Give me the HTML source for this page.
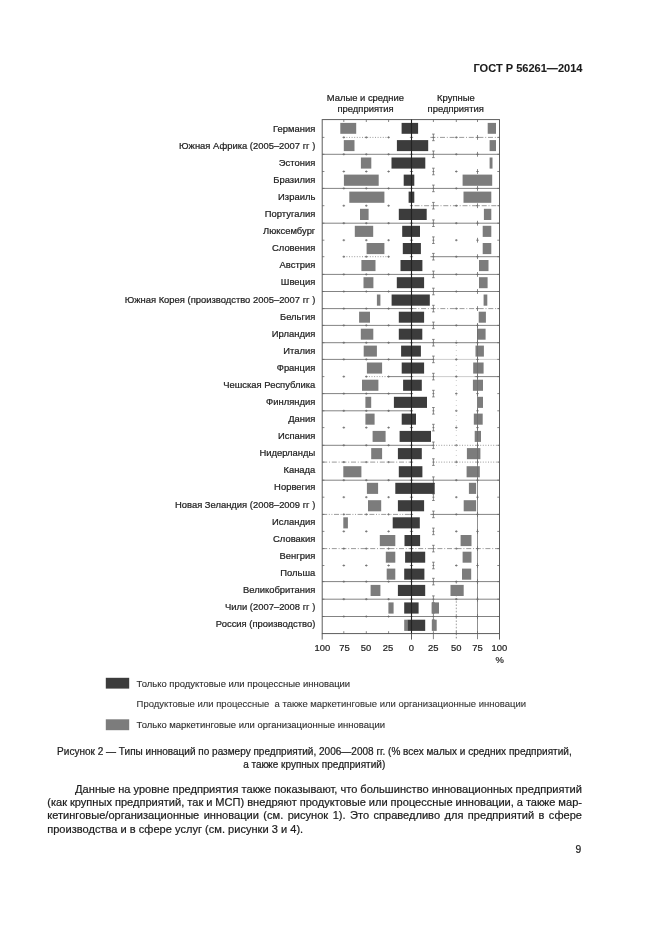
<!DOCTYPE html>
<html lang="ru"><head><meta charset="utf-8"><title>ГОСТ Р 56261—2014</title>
<style>
html,body{margin:0;padding:0;background:#fff;}
body{width:661px;height:935px;position:relative;overflow:hidden;font-family:"Liberation Sans",sans-serif;color:#1c1c1c;}
.t{position:absolute;white-space:nowrap;-webkit-text-stroke:0.22px #1c1c1c;transform:scaleY(1.045);}
#hdr{transform:none;-webkit-text-stroke:0.08px #1c1c1c;right:78.5px;top:60.9px;font-size:11.05px;font-weight:bold;line-height:14px;}
.cap{transform-origin:0 9.98px;left:0;width:628.8px;text-align:center;font-size:10.03px;line-height:13px;}
.p{transform-origin:0 10.3px;left:47.2px;font-size:11.08px;line-height:13px;}
#pn{transform-origin:0 10.07px;left:575.6px;top:842.8px;font-size:10.3px;line-height:13px;}
</style></head><body>
<svg width="661" height="935" viewBox="0 0 661 935" style="position:absolute;left:0;top:0" font-family="Liberation Sans, sans-serif" stroke="#222" stroke-width="0" paint-order="stroke"><style>text{stroke:#222;stroke-width:0.22px}</style>
<line x1="343.8" y1="137.4" x2="388.6" y2="137.4" stroke="#707070" stroke-width="0.7" stroke-dasharray="1 1.6"/>
<line x1="430.4" y1="137.4" x2="499.5" y2="137.4" stroke="#707070" stroke-width="0.7" stroke-dasharray="5 1.8 1 1.8"/>
<path d="M342.5 137.4h2.6M343.8 136.3v2.2M365.0 137.4h2.6M366.3 136.3v2.2M387.3 137.4h2.6M388.6 136.3v2.2M455.0 137.4h2.6M456.3 136.3v2.2M322.2 137.4h2.2M499.5 137.4h-2.2M409.9 137.4h3.2M433.4 134.1v6.6M432.1 134.1h2.6M432.1 140.7h2.6M432.4 137.4h2M477.5 135.0v4.8M476.2 137.4h2.6" stroke="#6a6a6a" stroke-width="0.8" fill="none"/>
<line x1="322.2" y1="154.3" x2="499.5" y2="154.3" stroke="#5a5a5a" stroke-width="0.75"/>
<path d="M342.5 154.3h2.6M343.8 153.2v2.2M365.0 154.3h2.6M366.3 153.2v2.2M387.3 154.3h2.6M388.6 153.2v2.2M455.0 154.3h2.6M456.3 153.2v2.2M322.2 154.3h2.2M499.5 154.3h-2.2M409.9 154.3h3.2M433.4 151.0v6.6M432.1 151.0h2.6M432.1 157.6h2.6M432.4 154.3h2M477.5 151.9v4.8M476.2 154.3h2.6" stroke="#6a6a6a" stroke-width="0.8" fill="none"/>
<path d="M342.5 171.5h2.6M343.8 170.4v2.2M365.0 171.5h2.6M366.3 170.4v2.2M387.3 171.5h2.6M388.6 170.4v2.2M455.0 171.5h2.6M456.3 170.4v2.2M322.2 171.5h2.2M499.5 171.5h-2.2M409.9 171.5h3.2M433.4 168.2v6.6M432.1 168.2h2.6M432.1 174.8h2.6M432.4 171.5h2M477.5 169.1v4.8M476.2 171.5h2.6" stroke="#6a6a6a" stroke-width="0.8" fill="none"/>
<line x1="322.2" y1="188.4" x2="499.5" y2="188.4" stroke="#5a5a5a" stroke-width="0.75"/>
<path d="M342.5 188.4h2.6M343.8 187.3v2.2M365.0 188.4h2.6M366.3 187.3v2.2M387.3 188.4h2.6M388.6 187.3v2.2M455.0 188.4h2.6M456.3 187.3v2.2M322.2 188.4h2.2M499.5 188.4h-2.2M409.9 188.4h3.2M433.4 185.1v6.6M432.1 185.1h2.6M432.1 191.7h2.6M432.4 188.4h2M477.5 186.0v4.8M476.2 188.4h2.6" stroke="#6a6a6a" stroke-width="0.8" fill="none"/>
<line x1="414.5" y1="205.7" x2="499.5" y2="205.7" stroke="#707070" stroke-width="0.7" stroke-dasharray="5 1.8 1 1.8"/>
<path d="M342.5 205.7h2.6M343.8 204.6v2.2M365.0 205.7h2.6M366.3 204.6v2.2M387.3 205.7h2.6M388.6 204.6v2.2M455.0 205.7h2.6M456.3 204.6v2.2M322.2 205.7h2.2M499.5 205.7h-2.2M409.9 205.7h3.2M433.4 202.4v6.6M432.1 202.4h2.6M432.1 209.0h2.6M432.4 205.7h2M477.5 203.3v4.8M476.2 205.7h2.6" stroke="#6a6a6a" stroke-width="0.8" fill="none"/>
<line x1="322.2" y1="223.2" x2="499.5" y2="223.2" stroke="#5a5a5a" stroke-width="0.75"/>
<path d="M342.5 223.2h2.6M343.8 222.1v2.2M365.0 223.2h2.6M366.3 222.1v2.2M387.3 223.2h2.6M388.6 222.1v2.2M455.0 223.2h2.6M456.3 222.1v2.2M322.2 223.2h2.2M499.5 223.2h-2.2M409.9 223.2h3.2M433.4 219.9v6.6M432.1 219.9h2.6M432.1 226.5h2.6M432.4 223.2h2M477.5 220.8v4.8M476.2 223.2h2.6" stroke="#6a6a6a" stroke-width="0.8" fill="none"/>
<path d="M342.5 240.2h2.6M343.8 239.1v2.2M365.0 240.2h2.6M366.3 239.1v2.2M387.3 240.2h2.6M388.6 239.1v2.2M455.0 240.2h2.6M456.3 239.1v2.2M322.2 240.2h2.2M499.5 240.2h-2.2M409.9 240.2h3.2M433.4 236.9v6.6M432.1 236.9h2.6M432.1 243.5h2.6M432.4 240.2h2M477.5 237.8v4.8M476.2 240.2h2.6" stroke="#6a6a6a" stroke-width="0.8" fill="none"/>
<line x1="343.8" y1="256.7" x2="390.6" y2="256.7" stroke="#707070" stroke-width="0.7" stroke-dasharray="1 1.6"/>
<line x1="430.4" y1="256.7" x2="499.5" y2="256.7" stroke="#5a5a5a" stroke-width="0.75"/>
<path d="M342.5 256.7h2.6M343.8 255.6v2.2M365.0 256.7h2.6M366.3 255.6v2.2M387.3 256.7h2.6M388.6 255.6v2.2M455.0 256.7h2.6M456.3 255.6v2.2M322.2 256.7h2.2M499.5 256.7h-2.2M409.9 256.7h3.2M433.4 253.4v6.6M432.1 253.4h2.6M432.1 260.0h2.6M432.4 256.7h2M477.5 254.3v4.8M476.2 256.7h2.6" stroke="#6a6a6a" stroke-width="0.8" fill="none"/>
<line x1="322.2" y1="274.4" x2="499.5" y2="274.4" stroke="#5a5a5a" stroke-width="0.75"/>
<path d="M342.5 274.4h2.6M343.8 273.3v2.2M365.0 274.4h2.6M366.3 273.3v2.2M387.3 274.4h2.6M388.6 273.3v2.2M455.0 274.4h2.6M456.3 273.3v2.2M322.2 274.4h2.2M499.5 274.4h-2.2M409.9 274.4h3.2M433.4 271.1v6.6M432.1 271.1h2.6M432.1 277.7h2.6M432.4 274.4h2M477.5 272.0v4.8M476.2 274.4h2.6" stroke="#6a6a6a" stroke-width="0.8" fill="none"/>
<line x1="322.2" y1="291.5" x2="499.5" y2="291.5" stroke="#5a5a5a" stroke-width="0.75"/>
<path d="M342.5 291.5h2.6M343.8 290.4v2.2M365.0 291.5h2.6M366.3 290.4v2.2M387.3 291.5h2.6M388.6 290.4v2.2M455.0 291.5h2.6M456.3 290.4v2.2M322.2 291.5h2.2M499.5 291.5h-2.2M409.9 291.5h3.2M433.4 288.2v6.6M432.1 288.2h2.6M432.1 294.8h2.6M432.4 291.5h2M477.5 289.1v4.8M476.2 291.5h2.6" stroke="#6a6a6a" stroke-width="0.8" fill="none"/>
<line x1="322.2" y1="308.6" x2="411.5" y2="308.6" stroke="#5a5a5a" stroke-width="0.75"/>
<line x1="411.5" y1="308.6" x2="499.5" y2="308.6" stroke="#707070" stroke-width="0.7" stroke-dasharray="5 1.8 1 1.8"/>
<path d="M342.5 308.6h2.6M343.8 307.5v2.2M365.0 308.6h2.6M366.3 307.5v2.2M387.3 308.6h2.6M388.6 307.5v2.2M455.0 308.6h2.6M456.3 307.5v2.2M322.2 308.6h2.2M499.5 308.6h-2.2M409.9 308.6h3.2M433.4 305.3v6.6M432.1 305.3h2.6M432.1 311.9h2.6M432.4 308.6h2M477.5 306.2v4.8M476.2 308.6h2.6" stroke="#6a6a6a" stroke-width="0.8" fill="none"/>
<line x1="322.2" y1="325.4" x2="499.5" y2="325.4" stroke="#5a5a5a" stroke-width="0.75"/>
<path d="M342.5 325.4h2.6M343.8 324.3v2.2M365.0 325.4h2.6M366.3 324.3v2.2M387.3 325.4h2.6M388.6 324.3v2.2M455.0 325.4h2.6M456.3 324.3v2.2M322.2 325.4h2.2M499.5 325.4h-2.2M409.9 325.4h3.2M433.4 322.1v6.6M432.1 322.1h2.6M432.1 328.7h2.6M432.4 325.4h2M477.5 323.0v4.8M476.2 325.4h2.6" stroke="#6a6a6a" stroke-width="0.8" fill="none"/>
<line x1="322.2" y1="342.7" x2="499.5" y2="342.7" stroke="#5a5a5a" stroke-width="0.75"/>
<path d="M342.5 342.7h2.6M343.8 341.6v2.2M365.0 342.7h2.6M366.3 341.6v2.2M387.3 342.7h2.6M388.6 341.6v2.2M455.0 342.7h2.6M456.3 341.6v2.2M322.2 342.7h2.2M499.5 342.7h-2.2M409.9 342.7h3.2M433.4 339.4v6.6M432.1 339.4h2.6M432.1 346.0h2.6M432.4 342.7h2M477.5 340.3v4.8M476.2 342.7h2.6" stroke="#6a6a6a" stroke-width="0.8" fill="none"/>
<line x1="322.2" y1="359.4" x2="433.4" y2="359.4" stroke="#5a5a5a" stroke-width="0.75"/>
<line x1="433.4" y1="359.4" x2="499.5" y2="359.4" stroke="#aaa" stroke-width="0.6"/>
<path d="M342.5 359.4h2.6M343.8 358.3v2.2M365.0 359.4h2.6M366.3 358.3v2.2M387.3 359.4h2.6M388.6 358.3v2.2M455.0 359.4h2.6M456.3 358.3v2.2M322.2 359.4h2.2M499.5 359.4h-2.2M409.9 359.4h3.2M433.4 356.1v6.6M432.1 356.1h2.6M432.1 362.7h2.6M432.4 359.4h2M477.5 357.0v4.8M476.2 359.4h2.6" stroke="#6a6a6a" stroke-width="0.8" fill="none"/>
<line x1="366.3" y1="376.6" x2="388.6" y2="376.6" stroke="#707070" stroke-width="0.7" stroke-dasharray="1 1.6"/>
<line x1="388.6" y1="376.6" x2="411.5" y2="376.6" stroke="#5a5a5a" stroke-width="0.75"/>
<line x1="411.5" y1="376.6" x2="474.5" y2="376.6" stroke="#aaa" stroke-width="0.6"/>
<line x1="474.5" y1="376.6" x2="499.5" y2="376.6" stroke="#5a5a5a" stroke-width="0.75"/>
<path d="M342.5 376.6h2.6M343.8 375.5v2.2M365.0 376.6h2.6M366.3 375.5v2.2M387.3 376.6h2.6M388.6 375.5v2.2M455.0 376.6h2.6M456.3 375.5v2.2M322.2 376.6h2.2M499.5 376.6h-2.2M409.9 376.6h3.2M433.4 373.3v6.6M432.1 373.3h2.6M432.1 379.9h2.6M432.4 376.6h2M477.5 374.2v4.8M476.2 376.6h2.6" stroke="#6a6a6a" stroke-width="0.8" fill="none"/>
<line x1="322.2" y1="393.6" x2="411.5" y2="393.6" stroke="#5a5a5a" stroke-width="0.75"/>
<path d="M342.5 393.6h2.6M343.8 392.5v2.2M365.0 393.6h2.6M366.3 392.5v2.2M387.3 393.6h2.6M388.6 392.5v2.2M455.0 393.6h2.6M456.3 392.5v2.2M322.2 393.6h2.2M499.5 393.6h-2.2M409.9 393.6h3.2M433.4 390.3v6.6M432.1 390.3h2.6M432.1 396.9h2.6M432.4 393.6h2M477.5 391.2v4.8M476.2 393.6h2.6" stroke="#6a6a6a" stroke-width="0.8" fill="none"/>
<line x1="322.2" y1="410.8" x2="411.5" y2="410.8" stroke="#5a5a5a" stroke-width="0.75"/>
<path d="M342.5 410.8h2.6M343.8 409.7v2.2M365.0 410.8h2.6M366.3 409.7v2.2M387.3 410.8h2.6M388.6 409.7v2.2M455.0 410.8h2.6M456.3 409.7v2.2M322.2 410.8h2.2M499.5 410.8h-2.2M409.9 410.8h3.2M433.4 407.5v6.6M432.1 407.5h2.6M432.1 414.1h2.6M432.4 410.8h2M477.5 408.4v4.8M476.2 410.8h2.6" stroke="#6a6a6a" stroke-width="0.8" fill="none"/>
<path d="M342.5 427.6h2.6M343.8 426.5v2.2M365.0 427.6h2.6M366.3 426.5v2.2M387.3 427.6h2.6M388.6 426.5v2.2M455.0 427.6h2.6M456.3 426.5v2.2M322.2 427.6h2.2M499.5 427.6h-2.2M409.9 427.6h3.2M433.4 424.3v6.6M432.1 424.3h2.6M432.1 430.9h2.6M432.4 427.6h2M477.5 425.2v4.8M476.2 427.6h2.6" stroke="#6a6a6a" stroke-width="0.8" fill="none"/>
<line x1="322.2" y1="445.3" x2="433.4" y2="445.3" stroke="#5a5a5a" stroke-width="0.75"/>
<line x1="433.4" y1="445.3" x2="499.5" y2="445.3" stroke="#707070" stroke-width="0.7" stroke-dasharray="1 1.6"/>
<path d="M342.5 445.3h2.6M343.8 444.2v2.2M365.0 445.3h2.6M366.3 444.2v2.2M387.3 445.3h2.6M388.6 444.2v2.2M455.0 445.3h2.6M456.3 444.2v2.2M322.2 445.3h2.2M499.5 445.3h-2.2M409.9 445.3h3.2M433.4 442.0v6.6M432.1 442.0h2.6M432.1 448.6h2.6M432.4 445.3h2M477.5 442.9v4.8M476.2 445.3h2.6" stroke="#6a6a6a" stroke-width="0.8" fill="none"/>
<line x1="322.2" y1="462.1" x2="411.5" y2="462.1" stroke="#707070" stroke-width="0.7" stroke-dasharray="5 1.8 1 1.8"/>
<line x1="433.4" y1="462.1" x2="499.5" y2="462.1" stroke="#707070" stroke-width="0.7" stroke-dasharray="1 1.6"/>
<path d="M342.5 462.1h2.6M343.8 461.0v2.2M365.0 462.1h2.6M366.3 461.0v2.2M387.3 462.1h2.6M388.6 461.0v2.2M455.0 462.1h2.6M456.3 461.0v2.2M322.2 462.1h2.2M499.5 462.1h-2.2M409.9 462.1h3.2M433.4 458.8v6.6M432.1 458.8h2.6M432.1 465.4h2.6M432.4 462.1h2M477.5 459.7v4.8M476.2 462.1h2.6" stroke="#6a6a6a" stroke-width="0.8" fill="none"/>
<line x1="322.2" y1="480.2" x2="499.5" y2="480.2" stroke="#5a5a5a" stroke-width="0.75"/>
<path d="M342.5 480.2h2.6M343.8 479.1v2.2M365.0 480.2h2.6M366.3 479.1v2.2M387.3 480.2h2.6M388.6 479.1v2.2M455.0 480.2h2.6M456.3 479.1v2.2M322.2 480.2h2.2M499.5 480.2h-2.2M409.9 480.2h3.2M433.4 476.9v6.6M432.1 476.9h2.6M432.1 483.5h2.6M432.4 480.2h2M477.5 477.8v4.8M476.2 480.2h2.6" stroke="#6a6a6a" stroke-width="0.8" fill="none"/>
<path d="M342.5 497.2h2.6M343.8 496.1v2.2M365.0 497.2h2.6M366.3 496.1v2.2M387.3 497.2h2.6M388.6 496.1v2.2M455.0 497.2h2.6M456.3 496.1v2.2M322.2 497.2h2.2M499.5 497.2h-2.2M409.9 497.2h3.2M433.4 493.9v6.6M432.1 493.9h2.6M432.1 500.5h2.6M432.4 497.2h2M477.5 494.8v4.8M476.2 497.2h2.6" stroke="#6a6a6a" stroke-width="0.8" fill="none"/>
<line x1="322.2" y1="514.4" x2="411.5" y2="514.4" stroke="#707070" stroke-width="0.7" stroke-dasharray="5 1.6 1 1.6 1 1.6"/>
<line x1="430.4" y1="514.4" x2="499.5" y2="514.4" stroke="#5a5a5a" stroke-width="0.75"/>
<path d="M342.5 514.4h2.6M343.8 513.3v2.2M365.0 514.4h2.6M366.3 513.3v2.2M387.3 514.4h2.6M388.6 513.3v2.2M455.0 514.4h2.6M456.3 513.3v2.2M322.2 514.4h2.2M499.5 514.4h-2.2M409.9 514.4h3.2M433.4 511.1v6.6M432.1 511.1h2.6M432.1 517.7h2.6M432.4 514.4h2M477.5 512.0v4.8M476.2 514.4h2.6" stroke="#6a6a6a" stroke-width="0.8" fill="none"/>
<path d="M342.5 531.4h2.6M343.8 530.3v2.2M365.0 531.4h2.6M366.3 530.3v2.2M387.3 531.4h2.6M388.6 530.3v2.2M455.0 531.4h2.6M456.3 530.3v2.2M322.2 531.4h2.2M499.5 531.4h-2.2M409.9 531.4h3.2M433.4 528.1v6.6M432.1 528.1h2.6M432.1 534.7h2.6M432.4 531.4h2M477.5 529.0v4.8M476.2 531.4h2.6" stroke="#6a6a6a" stroke-width="0.8" fill="none"/>
<line x1="322.2" y1="548.6" x2="499.5" y2="548.6" stroke="#707070" stroke-width="0.7" stroke-dasharray="5 1.8 1 1.8"/>
<path d="M342.5 548.6h2.6M343.8 547.5v2.2M365.0 548.6h2.6M366.3 547.5v2.2M387.3 548.6h2.6M388.6 547.5v2.2M455.0 548.6h2.6M456.3 547.5v2.2M322.2 548.6h2.2M499.5 548.6h-2.2M409.9 548.6h3.2M433.4 545.3v6.6M432.1 545.3h2.6M432.1 551.9h2.6M432.4 548.6h2M477.5 546.2v4.8M476.2 548.6h2.6" stroke="#6a6a6a" stroke-width="0.8" fill="none"/>
<path d="M342.5 565.5h2.6M343.8 564.4v2.2M365.0 565.5h2.6M366.3 564.4v2.2M387.3 565.5h2.6M388.6 564.4v2.2M455.0 565.5h2.6M456.3 564.4v2.2M322.2 565.5h2.2M499.5 565.5h-2.2M409.9 565.5h3.2M433.4 562.2v6.6M432.1 562.2h2.6M432.1 568.8h2.6M432.4 565.5h2M477.5 563.1v4.8M476.2 565.5h2.6" stroke="#6a6a6a" stroke-width="0.8" fill="none"/>
<line x1="322.2" y1="581.6" x2="499.5" y2="581.6" stroke="#5a5a5a" stroke-width="0.75"/>
<path d="M342.5 581.6h2.6M343.8 580.5v2.2M365.0 581.6h2.6M366.3 580.5v2.2M387.3 581.6h2.6M388.6 580.5v2.2M455.0 581.6h2.6M456.3 580.5v2.2M322.2 581.6h2.2M499.5 581.6h-2.2M409.9 581.6h3.2M433.4 578.3v6.6M432.1 578.3h2.6M432.1 584.9h2.6M432.4 581.6h2M477.5 579.2v4.8M476.2 581.6h2.6" stroke="#6a6a6a" stroke-width="0.8" fill="none"/>
<line x1="322.2" y1="599.2" x2="499.5" y2="599.2" stroke="#5a5a5a" stroke-width="0.75"/>
<path d="M342.5 599.2h2.6M343.8 598.1v2.2M365.0 599.2h2.6M366.3 598.1v2.2M387.3 599.2h2.6M388.6 598.1v2.2M455.0 599.2h2.6M456.3 598.1v2.2M322.2 599.2h2.2M499.5 599.2h-2.2M409.9 599.2h3.2M433.4 595.9v6.6M432.1 595.9h2.6M432.1 602.5h2.6M432.4 599.2h2M477.5 596.8v4.8M476.2 599.2h2.6" stroke="#6a6a6a" stroke-width="0.8" fill="none"/>
<line x1="322.2" y1="616.5" x2="499.5" y2="616.5" stroke="#5a5a5a" stroke-width="0.75"/>
<path d="M342.5 616.5h2.6M343.8 615.4v2.2M365.0 616.5h2.6M366.3 615.4v2.2M387.3 616.5h2.6M388.6 615.4v2.2M455.0 616.5h2.6M456.3 615.4v2.2M322.2 616.5h2.2M499.5 616.5h-2.2M409.9 616.5h3.2M433.4 613.2v6.6M432.1 613.2h2.6M432.1 619.8h2.6M432.4 616.5h2M477.5 614.1v4.8M476.2 616.5h2.6" stroke="#6a6a6a" stroke-width="0.8" fill="none"/>
<path d="M343.8 119.6v2.4M343.8 633.6v-2.4M366.3 119.6v2.4M366.3 633.6v-2.4M388.6 119.6v2.4M388.6 633.6v-2.4M433.4 119.6v2.4M433.4 633.6v-2.4M456.3 119.6v2.4M456.3 633.6v-2.4M477.5 119.6v2.4M477.5 633.6v-2.4" stroke="#6a6a6a" stroke-width="0.8" fill="none"/>
<line x1="456.3" y1="340" x2="456.3" y2="470" stroke="#aaa" stroke-width="0.6" stroke-dasharray="1 4"/>
<line x1="456.3" y1="582" x2="456.3" y2="633.6" stroke="#777" stroke-width="0.7" stroke-dasharray="1.6 1.6"/>
<rect x="340.3" y="122.9" width="15.9" height="10.9" fill="#7c7c7c"/>
<rect x="487.7" y="122.9" width="8.3" height="10.9" fill="#7c7c7c"/>
<rect x="401.6" y="122.9" width="16.5" height="10.9" fill="#3c3c3c"/>
<text transform="translate(315.3 131.6) scale(1 1.045)" text-anchor="end" font-size="9.42" fill="#222">Германия</text>
<rect x="343.8" y="140.1" width="10.7" height="11.0" fill="#7c7c7c"/>
<rect x="489.6" y="140.1" width="6.4" height="11.0" fill="#7c7c7c"/>
<rect x="396.9" y="140.1" width="31.3" height="11.0" fill="#3c3c3c"/>
<text transform="translate(315.3 148.7) scale(1 1.045)" text-anchor="end" font-size="9.42" fill="#222">Южная Африка (2005–2007 гг )</text>
<rect x="360.9" y="157.5" width="10.4" height="11.1" fill="#7c7c7c"/>
<rect x="489.6" y="157.5" width="2.9" height="11.1" fill="#7c7c7c"/>
<rect x="391.5" y="157.5" width="33.8" height="11.1" fill="#3c3c3c"/>
<text transform="translate(315.3 165.8) scale(1 1.045)" text-anchor="end" font-size="9.42" fill="#222">Эстония</text>
<rect x="343.9" y="174.6" width="34.8" height="11.2" fill="#7c7c7c"/>
<rect x="462.6" y="174.6" width="29.6" height="11.2" fill="#7c7c7c"/>
<rect x="403.7" y="174.6" width="10.6" height="11.2" fill="#3c3c3c"/>
<text transform="translate(315.3 182.9) scale(1 1.045)" text-anchor="end" font-size="9.42" fill="#222">Бразилия</text>
<rect x="349.3" y="191.6" width="35.1" height="11.2" fill="#7c7c7c"/>
<rect x="463.5" y="191.6" width="27.8" height="11.2" fill="#7c7c7c"/>
<rect x="408.6" y="191.6" width="5.7" height="11.2" fill="#3c3c3c"/>
<text transform="translate(315.3 199.9) scale(1 1.045)" text-anchor="end" font-size="9.42" fill="#222">Израиль</text>
<rect x="360.0" y="208.8" width="8.6" height="11.2" fill="#7c7c7c"/>
<rect x="483.9" y="208.8" width="7.4" height="11.2" fill="#7c7c7c"/>
<rect x="398.8" y="208.8" width="27.9" height="11.2" fill="#3c3c3c"/>
<text transform="translate(315.3 217.0) scale(1 1.045)" text-anchor="end" font-size="9.42" fill="#222">Португалия</text>
<rect x="354.8" y="225.8" width="18.4" height="11.1" fill="#7c7c7c"/>
<rect x="482.7" y="225.8" width="8.6" height="11.1" fill="#7c7c7c"/>
<rect x="402.2" y="225.8" width="17.8" height="11.1" fill="#3c3c3c"/>
<text transform="translate(315.3 234.1) scale(1 1.045)" text-anchor="end" font-size="9.42" fill="#222">Люксембург</text>
<rect x="366.6" y="243.0" width="17.8" height="11.1" fill="#7c7c7c"/>
<rect x="482.7" y="243.0" width="8.6" height="11.1" fill="#7c7c7c"/>
<rect x="402.8" y="243.0" width="18.1" height="11.1" fill="#3c3c3c"/>
<text transform="translate(315.3 251.2) scale(1 1.045)" text-anchor="end" font-size="9.42" fill="#222">Словения</text>
<rect x="361.4" y="260.0" width="14.1" height="11.1" fill="#7c7c7c"/>
<rect x="479.0" y="260.0" width="9.5" height="11.1" fill="#7c7c7c"/>
<rect x="400.5" y="260.0" width="21.9" height="11.1" fill="#3c3c3c"/>
<text transform="translate(315.3 268.3) scale(1 1.045)" text-anchor="end" font-size="9.42" fill="#222">Австрия</text>
<rect x="363.5" y="277.2" width="9.9" height="11.0" fill="#7c7c7c"/>
<rect x="479.0" y="277.2" width="8.6" height="11.0" fill="#7c7c7c"/>
<rect x="396.8" y="277.2" width="27.3" height="11.0" fill="#3c3c3c"/>
<text transform="translate(315.3 285.4) scale(1 1.045)" text-anchor="end" font-size="9.42" fill="#222">Швеция</text>
<rect x="376.9" y="294.5" width="3.5" height="11.2" fill="#7c7c7c"/>
<rect x="483.6" y="294.5" width="3.7" height="11.2" fill="#7c7c7c"/>
<rect x="391.6" y="294.5" width="38.2" height="11.2" fill="#3c3c3c"/>
<text transform="translate(315.3 302.5) scale(1 1.045)" text-anchor="end" font-size="9.42" fill="#222">Южная Корея (производство 2005–2007 гг )</text>
<rect x="359.1" y="311.7" width="10.9" height="11.0" fill="#7c7c7c"/>
<rect x="478.7" y="311.7" width="7.2" height="11.0" fill="#7c7c7c"/>
<rect x="398.8" y="311.7" width="25.3" height="11.0" fill="#3c3c3c"/>
<text transform="translate(315.3 319.5) scale(1 1.045)" text-anchor="end" font-size="9.42" fill="#222">Бельгия</text>
<rect x="360.8" y="328.7" width="12.5" height="11.0" fill="#7c7c7c"/>
<rect x="477.0" y="328.7" width="8.6" height="11.0" fill="#7c7c7c"/>
<rect x="398.8" y="328.7" width="23.5" height="11.0" fill="#3c3c3c"/>
<text transform="translate(315.3 336.6) scale(1 1.045)" text-anchor="end" font-size="9.42" fill="#222">Ирландия</text>
<rect x="363.7" y="345.6" width="13.2" height="11.0" fill="#7c7c7c"/>
<rect x="475.5" y="345.6" width="8.4" height="11.0" fill="#7c7c7c"/>
<rect x="401.1" y="345.6" width="19.8" height="11.0" fill="#3c3c3c"/>
<text transform="translate(315.3 353.7) scale(1 1.045)" text-anchor="end" font-size="9.42" fill="#222">Италия</text>
<rect x="366.9" y="362.5" width="15.2" height="11.1" fill="#7c7c7c"/>
<rect x="473.2" y="362.5" width="10.4" height="11.1" fill="#7c7c7c"/>
<rect x="401.7" y="362.5" width="22.4" height="11.1" fill="#3c3c3c"/>
<text transform="translate(315.3 370.8) scale(1 1.045)" text-anchor="end" font-size="9.42" fill="#222">Франция</text>
<rect x="362.0" y="379.7" width="16.4" height="11.1" fill="#7c7c7c"/>
<rect x="472.9" y="379.7" width="10.1" height="11.1" fill="#7c7c7c"/>
<rect x="403.1" y="379.7" width="18.7" height="11.1" fill="#3c3c3c"/>
<text transform="translate(315.3 387.9) scale(1 1.045)" text-anchor="end" font-size="9.42" fill="#222">Чешская Республика</text>
<rect x="365.4" y="396.8" width="5.8" height="11.1" fill="#7c7c7c"/>
<rect x="477.5" y="396.8" width="5.5" height="11.1" fill="#7c7c7c"/>
<rect x="393.9" y="396.8" width="33.1" height="11.1" fill="#3c3c3c"/>
<text transform="translate(315.3 405.0) scale(1 1.045)" text-anchor="end" font-size="9.42" fill="#222">Финляндия</text>
<rect x="365.4" y="413.6" width="9.2" height="11.1" fill="#7c7c7c"/>
<rect x="473.8" y="413.6" width="8.9" height="11.1" fill="#7c7c7c"/>
<rect x="401.7" y="413.6" width="14.3" height="11.1" fill="#3c3c3c"/>
<text transform="translate(315.3 422.1) scale(1 1.045)" text-anchor="end" font-size="9.42" fill="#222">Дания</text>
<rect x="372.6" y="430.9" width="13.0" height="11.0" fill="#7c7c7c"/>
<rect x="474.7" y="430.9" width="6.3" height="11.0" fill="#7c7c7c"/>
<rect x="399.6" y="430.9" width="31.4" height="11.0" fill="#3c3c3c"/>
<text transform="translate(315.3 439.2) scale(1 1.045)" text-anchor="end" font-size="9.42" fill="#222">Испания</text>
<rect x="371.2" y="448.1" width="10.9" height="11.1" fill="#7c7c7c"/>
<rect x="466.9" y="448.1" width="13.5" height="11.1" fill="#7c7c7c"/>
<rect x="397.9" y="448.1" width="23.9" height="11.1" fill="#3c3c3c"/>
<text transform="translate(315.3 456.2) scale(1 1.045)" text-anchor="end" font-size="9.42" fill="#222">Нидерланды</text>
<rect x="343.3" y="466.2" width="18.1" height="11.1" fill="#7c7c7c"/>
<rect x="466.6" y="466.2" width="13.2" height="11.1" fill="#7c7c7c"/>
<rect x="398.8" y="466.2" width="23.6" height="11.1" fill="#3c3c3c"/>
<text transform="translate(315.3 473.3) scale(1 1.045)" text-anchor="end" font-size="9.42" fill="#222">Канада</text>
<rect x="366.9" y="482.8" width="11.2" height="11.1" fill="#7c7c7c"/>
<rect x="468.9" y="482.8" width="7.2" height="11.1" fill="#7c7c7c"/>
<rect x="395.3" y="482.8" width="39.4" height="11.1" fill="#3c3c3c"/>
<text transform="translate(315.3 490.4) scale(1 1.045)" text-anchor="end" font-size="9.42" fill="#222">Норвегия</text>
<rect x="368.0" y="500.2" width="13.2" height="11.1" fill="#7c7c7c"/>
<rect x="463.7" y="500.2" width="12.4" height="11.1" fill="#7c7c7c"/>
<rect x="397.9" y="500.2" width="26.2" height="11.1" fill="#3c3c3c"/>
<text transform="translate(315.3 507.5) scale(1 1.045)" text-anchor="end" font-size="9.42" fill="#222">Новая Зеландия (2008–2009 гг )</text>
<rect x="343.3" y="517.3" width="4.6" height="11.1" fill="#7c7c7c"/>
<rect x="392.7" y="517.3" width="27.1" height="11.1" fill="#3c3c3c"/>
<text transform="translate(315.3 524.6) scale(1 1.045)" text-anchor="end" font-size="9.42" fill="#222">Исландия</text>
<rect x="379.8" y="535.0" width="15.5" height="11.1" fill="#7c7c7c"/>
<rect x="460.6" y="535.0" width="10.9" height="11.1" fill="#7c7c7c"/>
<rect x="404.5" y="535.0" width="15.6" height="11.1" fill="#3c3c3c"/>
<text transform="translate(315.3 541.7) scale(1 1.045)" text-anchor="end" font-size="9.42" fill="#222">Словакия</text>
<rect x="385.8" y="551.7" width="9.5" height="11.0" fill="#7c7c7c"/>
<rect x="462.6" y="551.7" width="8.9" height="11.0" fill="#7c7c7c"/>
<rect x="405.1" y="551.7" width="20.1" height="11.0" fill="#3c3c3c"/>
<text transform="translate(315.3 558.8) scale(1 1.045)" text-anchor="end" font-size="9.42" fill="#222">Венгрия</text>
<rect x="386.7" y="568.6" width="8.6" height="11.1" fill="#7c7c7c"/>
<rect x="462.0" y="568.6" width="9.2" height="11.1" fill="#7c7c7c"/>
<rect x="404.2" y="568.6" width="20.2" height="11.1" fill="#3c3c3c"/>
<text transform="translate(315.3 575.8) scale(1 1.045)" text-anchor="end" font-size="9.42" fill="#222">Польша</text>
<rect x="370.6" y="584.9" width="9.8" height="11.1" fill="#7c7c7c"/>
<rect x="450.5" y="584.9" width="13.2" height="11.1" fill="#7c7c7c"/>
<rect x="397.9" y="584.9" width="27.3" height="11.1" fill="#3c3c3c"/>
<text transform="translate(315.3 592.9) scale(1 1.045)" text-anchor="end" font-size="9.42" fill="#222">Великобритания</text>
<rect x="388.4" y="602.4" width="5.2" height="11.2" fill="#7c7c7c"/>
<rect x="431.6" y="602.4" width="7.4" height="11.2" fill="#7c7c7c"/>
<rect x="404.2" y="602.4" width="14.4" height="11.2" fill="#3c3c3c"/>
<text transform="translate(315.3 610.0) scale(1 1.045)" text-anchor="end" font-size="9.42" fill="#222">Чили (2007–2008 гг )</text>
<rect x="404.2" y="619.7" width="3.2" height="11.2" fill="#7c7c7c"/>
<rect x="431.8" y="619.7" width="4.9" height="11.2" fill="#7c7c7c"/>
<rect x="407.4" y="619.7" width="17.8" height="11.2" fill="#3c3c3c"/>
<text transform="translate(315.3 627.1) scale(1 1.045)" text-anchor="end" font-size="9.42" fill="#222">Россия (производство)</text>
<line x1="477.5" y1="324" x2="477.5" y2="633.6" stroke="#6a6a6a" stroke-width="0.75"/>
<rect x="322.2" y="119.6" width="177.3" height="514.0" fill="none" stroke="#555" stroke-width="0.95"/>
<path d="M322.2 633.6v6M499.5 633.6v6M411.5 633.6v6" stroke="#555" stroke-width="0.95"/>
<path d="M433.4 633.6v5.6M477.5 633.6v5.6" stroke="#666" stroke-width="0.8"/>
<path d="M456.3 633.6v5.6" stroke="#666" stroke-width="0.8" stroke-dasharray="1.6 1.6"/>
<line x1="411.5" y1="119.6" x2="411.5" y2="633.6" stroke="#222" stroke-width="1.1"/>
<text transform="translate(322.3 650.8) scale(1 1.045)" text-anchor="middle" font-size="9.42" fill="#222">100</text>
<text transform="translate(344.4 650.8) scale(1 1.045)" text-anchor="middle" font-size="9.42" fill="#222">75</text>
<text transform="translate(366.0 650.8) scale(1 1.045)" text-anchor="middle" font-size="9.42" fill="#222">50</text>
<text transform="translate(388.0 650.8) scale(1 1.045)" text-anchor="middle" font-size="9.42" fill="#222">25</text>
<text transform="translate(411.3 650.8) scale(1 1.045)" text-anchor="middle" font-size="9.42" fill="#222">0</text>
<text transform="translate(433.3 650.8) scale(1 1.045)" text-anchor="middle" font-size="9.42" fill="#222">25</text>
<text transform="translate(456.2 650.8) scale(1 1.045)" text-anchor="middle" font-size="9.42" fill="#222">50</text>
<text transform="translate(477.4 650.8) scale(1 1.045)" text-anchor="middle" font-size="9.42" fill="#222">75</text>
<text transform="translate(499.45 650.8) scale(1 1.045)" text-anchor="middle" font-size="9.42" fill="#222">100</text>
<text transform="translate(499.6 662.7) scale(1 1.045)" text-anchor="middle" font-size="9.42" fill="#222">%</text>
<text transform="translate(365.4 101.2) scale(1 1.045)" text-anchor="middle" font-size="9.42" fill="#222">Малые и средние</text>
<text transform="translate(365.6 111.8) scale(1 1.045)" text-anchor="middle" font-size="9.42" fill="#222">предприятия</text>
<text transform="translate(455.9 101.2) scale(1 1.045)" text-anchor="middle" font-size="9.42" fill="#222">Крупные</text>
<text transform="translate(455.7 111.8) scale(1 1.045)" text-anchor="middle" font-size="9.42" fill="#222">предприятия</text>
<rect x="105.8" y="677.8" width="23.4" height="10.8" fill="#3c3c3c"/>
<rect x="105.8" y="719.3" width="23.4" height="10.9" fill="#7c7c7c"/>
<text transform="translate(136.6 686.6) scale(1 1.045)" font-size="9.48" fill="#2a2a2a" style="stroke-width:0.1px">Только продуктовые или процессные инновации</text>
<text transform="translate(136.6 706.7) scale(1 1.045)" font-size="9.48" fill="#333" style="stroke-width:0.1px">Продуктовые или процессные&#160; а также маркетинговые или организационные инновации</text>
<text transform="translate(136.6 728) scale(1 1.045)" font-size="9.48" fill="#2a2a2a" style="stroke-width:0.1px">Только маркетинговые или организационные инновации</text>
<text transform="translate(314.4 755) scale(1 1.045)" text-anchor="middle" font-size="10.03" fill="#1c1c1c">Рисунок 2 — Типы инноваций по размеру предприятий, 2006—2008 гг. (% всех малых и средних предприятий,</text>
<text transform="translate(314.2 767.8) scale(1 1.045)" text-anchor="middle" font-size="10.03" fill="#1c1c1c">а также крупных предприятий)</text>
</svg>
<div class="t" id="hdr">ГОСТ Р 56261—2014</div>
<div class="t p" style="top:782.8px;left:75.1px;word-spacing:-0.04px">Данные на уровне предприятия также показывают, что большинство инновационных предприятий</div>
<div class="t p" style="top:796px;word-spacing:-0.13px">(как крупных предприятий, так и МСП) внедряют продуктовые или процессные инновации, а также мар-</div>
<div class="t p" style="top:809.3px;word-spacing:1.34px">кетинговые/организационные инновации (см. рисунок 1). Это справедливо для предприятий в сфере</div>
<div class="t p" style="top:822.5px">производства и в сфере услуг (см. рисунки 3 и 4).</div>
<div class="t" id="pn">9</div>
</body></html>
